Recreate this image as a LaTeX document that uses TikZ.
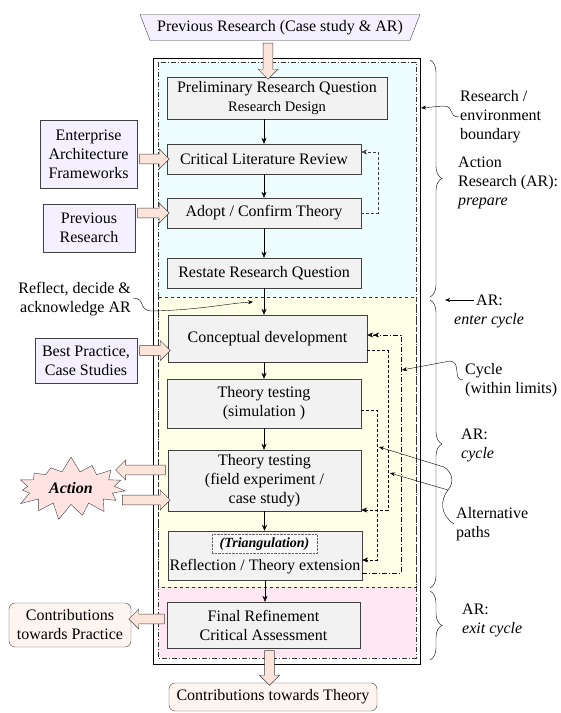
\documentclass[tikz,border=0pt]{standalone}
\usepackage{fontspec}
\setmainfont{Liberation Serif}
\usetikzlibrary{calc,arrows.meta,shapes.geometric,shapes.arrows,shapes.symbols,decorations.pathreplacing}

\definecolor{boxgray}{HTML}{F2F2F2}
\definecolor{lavender}{HTML}{F4F0FF}
\definecolor{peach}{HTML}{FCE4DA}
\definecolor{outpeach}{HTML}{FFF5F0}
\definecolor{cyanbg}{HTML}{EEFEFF}
\definecolor{yellowbg}{HTML}{FFFFE8}
\definecolor{pinkbg}{HTML}{FFE8F4}
\definecolor{starpink}{HTML}{FFE2E2}

\tikzset{
  every node/.style={font=\fontsize{16}{19}\selectfont},
  procbox/.style={draw=black!75, fill=boxgray, align=center, inner sep=0pt},
  inbox/.style={draw=black!75, fill=lavender, align=center, inner sep=0pt},
  outbox/.style={draw=black!75, fill=outpeach, rounded corners=6pt, align=center, inner sep=0pt},
  fatarrow/.style={single arrow, draw=black!75, fill=peach, inner xsep=0pt, inner ysep=4.5pt,
    minimum width=20pt, single arrow head extend=5pt},
  flow/.style={-{Stealth[length=6pt,width=5pt]}},
  loopback/.style={densely dashed, -{Stealth[length=6pt,width=5pt]}},
  cyclepath/.style={dash pattern=on 5pt off 2pt on 1pt off 2pt,
    -{Stealth[length=6pt,width=5pt]Stealth[length=6pt,width=5pt]}},
  callout/.style={-{Stealth[length=5pt,width=4pt]}},
  note/.style={align=left, anchor=west, inner sep=0pt},
  bracket/.style={decorate, decoration={brace, amplitude=12pt}},
}

\newcommand{\fatarr}[2]{%
  \path let \p1=($(#2)-(#1)$), \n1={veclen(\x1,\y1)}, \n2={atan2(\y1,\x1)} in
    ($(#1)!0.5!(#2)$) node[fatarrow, minimum height=\n1, rotate=\n2] {};}

\begin{document}
\begin{tikzpicture}[x=1pt, y=-1pt]
  \useasboundingbox (0,0) rectangle (561,713);

  % boundary and phases
  \draw[black] (153,58) rectangle (420,664);
  \fill[cyanbg] (158,62) rectangle (416,297);
  \fill[yellowbg] (158,297) rectangle (416,587);
  \fill[pinkbg] (158,587) rectangle (416,658);
  \draw[black!80, dash pattern=on 5pt off 2pt on 1pt off 2pt] (158,62) rectangle (416,658);
  \draw[black!80, dashed] (158,297) rectangle (416,587);

  \node[trapezium, trapezium stretches body=true, shape border rotate=180,
    trapezium left angle=55, trapezium right angle=55, draw=black!75, fill=lavender,
    minimum width=280pt, minimum height=26pt, inner sep=0pt] (prev) at (280,27.5)
    {Previous Research (Case study \& AR)};

  \node[procbox, minimum width=220pt, minimum height=42pt] (prelim) at (277,98)
    {Preliminary Research Question\\{\fontsize{14.5}{17}\selectfont Research Design}};
  \node[procbox, minimum width=194pt, minimum height=30pt] (litrev) at (264,159) {Critical Literature Review};
  \node[procbox, minimum width=194pt, minimum height=30pt] (adopt) at (264,213) {Adopt / Confirm Theory};
  \node[procbox, minimum width=194pt, minimum height=30pt] (restate) at (264,273) {Restate Research Question};
  \node[procbox, minimum width=199pt, minimum height=47pt] (concept) at (267.5,338.5) {Conceptual development};
  \node[procbox, minimum width=194pt, minimum height=49pt] (simul) at (264,403.5) {Theory testing\\(simulation )};
  \node[procbox, minimum width=193pt, minimum height=61pt] (field) at (264.5,480.5)
    {Theory testing\\(field experiment /\\case study)};
  \node[procbox, minimum width=194pt, minimum height=49pt] (reflect) at (265,555.5) {};
  \node[draw=black!60, densely dotted, fill=white!50!boxgray, inner sep=0pt, minimum width=105pt,
    minimum height=19pt, font=\bfseries\itshape\fontsize{14}{16}\selectfont] (tri) at (264.5,544) {(Triangulation)};
  \node[inner sep=0pt] (reflabel) at (265,567) {Reflection / Theory extension};
  \node[procbox, minimum width=193pt, minimum height=46pt] (final) at (263.5,625)
    {Final Refinement\\Critical Assessment};

  \node[outbox, minimum width=208pt, minimum height=28pt] (theory) at (273,697) {Contributions towards Theory};
  \node[outbox, minimum width=122pt, minimum height=44pt] (practice) at (70,625) {Contributions\\towards Practice};

  \node[inbox, minimum width=97pt, minimum height=68pt] (eaf) at (88.5,154) {Enterprise\\Architecture\\Frameworks};
  \node[inbox, minimum width=92pt, minimum height=48pt] (prevres) at (89,228) {Previous\\Research};
  \node[inbox, minimum width=102pt, minimum height=45pt] (bestprac) at (86,360.5) {Best Practice,\\Case Studies};

  \node[starburst, starburst points=15, starburst point height=16pt, random starburst=7,
    draw=black!75, fill=starpink, inner xsep=9pt, inner ysep=6pt,
    font=\bfseries\itshape\fontsize{16}{19}\selectfont] (action) at (71,488) {Action};

  % inputs and outputs
  \coordinate (t1) at ($(prev.south)+(-12,0)$);
  \coordinate (t2) at (t1 |- prelim.north);
  \fatarr{t1}{t2}
  \coordinate (e1) at (eaf.east |- litrev.west);
  \fatarr{e1}{litrev.west}
  \coordinate (p1) at (prevres.east |- adopt.west);
  \fatarr{p1}{adopt.west}
  \coordinate (b1) at ($(bestprac.east)+(0,-10)$);
  \coordinate (b2) at (concept.west |- b1);
  \fatarr{b1}{b2}
  \coordinate (s1) at (118,470);
  \coordinate (f1) at (field.west |- s1);
  \fatarr{f1}{s1}
  \coordinate (s2) at (120,500);
  \coordinate (f2) at (field.west |- s2);
  \fatarr{s2}{f2}
  \coordinate (r1) at ($(final.west)+(0,-6)$);
  \coordinate (r2) at (practice.east |- r1);
  \fatarr{r1}{r2}
  \coordinate (c1) at ($(final.south)+(6,0)$);
  \coordinate (c2) at (c1 |- theory.north);
  \fatarr{c1}{c2}

  % main sequence
  \draw[flow] (litrev.north |- prelim.south) -- (litrev.north);
  \draw[flow] (litrev) -- (adopt);
  \draw[flow] (adopt) -- (restate);
  \draw[flow] (restate.south) -- (restate.south |- concept.north);
  \draw[flow] (simul.north |- concept.south) -- (simul.north);
  \draw[flow] (simul.south) -- (simul.south |- field.north);
  \draw[flow] (field.south) -- (field.south |- reflect.north);
  \draw[flow] (reflect.south) -- (reflect.south |- final.north);

  % loops
  \draw[loopback, black!75] (adopt.east) -- ++(17,0) |- ($(litrev.east)+(0,-7)$);
  \draw[cyclepath] ($(reflect.east)+(0,17.5)$) -- ++(39,0) |- ($(concept.east)+(0,-3.5)$);
  \draw[loopback] ($(concept.east)+(0,11.5)$) -- ++(20.5,0) |- ($(field.east)+(0,29.5)$);
  \draw[loopback] ($(simul.east)+(0,6.5)$) -- ++(16,0) |- ($(reflect.east)+(0,4.5)$);

  % notes
  \node[note] (bnd) at (460,117) {Research /\\environment\\boundary};
  \coordinate (bndtip) at (421,108);
  \draw[callout] ($(bnd.west)+(-1,0)$) .. controls (447,117) and (456,106) .. (443,106) -- (bndtip);
  \node[note] (prep) at (458,183) {Action\\Research (AR):\\\textit{prepare}};
  \node[note] (entA) at (476,300) {AR:};
  \node[note] (entB) at (454,321) {\textit{enter cycle}};
  \coordinate (enttip) at (445,300);
  \draw[callout] ($(entA.west)+(-2,0)$) -- (enttip);
  \node[note] (cyc) at (465,380) {Cycle\\(within limits)};
  \coordinate (cyctip) at (402,370);
  \draw[callout] ($(cyc.west)+(-2,0)$) .. controls (452,380) and (462,362) .. (450,361) -- (cyctip);
  \node[note] (arcyc) at (461,445) {AR:\\\textit{cycle}};
  \node[note] (alt) at (456,524) {Alternative\\paths};
  \coordinate (alttipA) at (379,447);
  \coordinate (alttipB) at (390,473);
  \coordinate (altmid) at (448,490);
  \draw[callout] ($(alt.west)+(-2,0)$) .. controls (440,515) and (440,500) .. (altmid) -- (alttipB);
  \draw[callout] (altmid) .. controls (455,482) and (452,472) .. (444,467) -- (alttipA);
  \node[note] (arexit) at (462,620) {AR:\\\textit{exit cycle}};
  \node[align=right, anchor=east, inner sep=0pt] (rfl) at (131,299) {Reflect, decide \&\\acknowledge AR};
  \coordinate (rfltip) at (253,302);
  \draw[callout] ($(rfl.east)+(2,-1)$) .. controls (146,298) and (138,311) .. (152,311)
    .. controls (200,310) and (230,303) .. (rfltip);

  \draw[bracket] (430,60) -- (430,297);
  \draw[bracket] (430,300) -- (430,588);
  \draw[bracket] (430,591) -- (430,660);
\end{tikzpicture}
\end{document}
